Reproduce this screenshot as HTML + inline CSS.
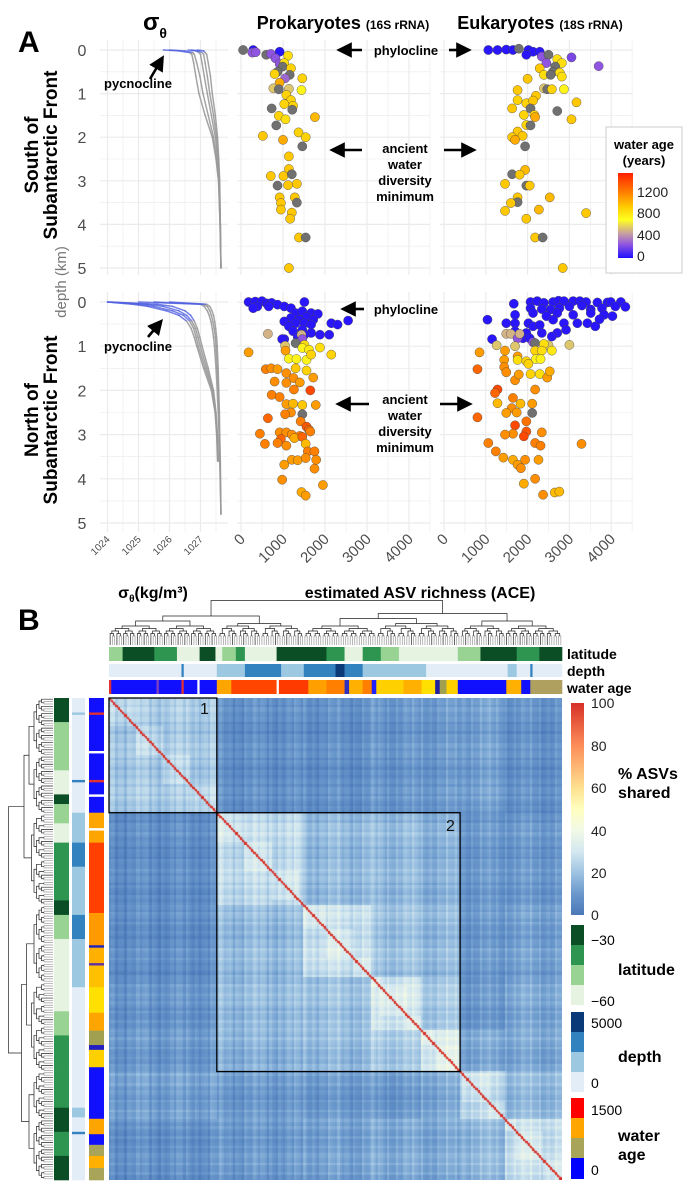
<!DOCTYPE html>
<html><head><meta charset="utf-8">
<style>
html,body{margin:0;padding:0;background:#fff;}
#wrap{position:relative;width:691px;height:1200px;overflow:hidden;font-family:"Liberation Sans",Arial,sans-serif;}
#hm{position:absolute;left:109px;top:698px;}
#svg{position:absolute;left:0;top:0;}
</style></head>
<body>
<div id="wrap">
<canvas id="hm" width="453" height="482"></canvas>
<svg id="svg" width="691" height="1200" xmlns="http://www.w3.org/2000/svg">
<defs>
<linearGradient id="ageGrad" x1="0" y1="1" x2="0" y2="0">
<stop offset="0" stop-color="#2010ff"/><stop offset="0.16" stop-color="#9055e0"/><stop offset="0.29" stop-color="#c8a0a0"/><stop offset="0.45" stop-color="#ffff20"/><stop offset="0.61" stop-color="#ffc800"/><stop offset="0.77" stop-color="#ff8000"/><stop offset="1" stop-color="#ff2000"/>
</linearGradient>
<linearGradient id="pctGrad" x1="0" y1="1" x2="0" y2="0">
<stop offset="0" stop-color="#4b78b8"/><stop offset="0.1" stop-color="#6a98cc"/><stop offset="0.2" stop-color="#9ec3e2"/><stop offset="0.3" stop-color="#d4e8f0"/><stop offset="0.4" stop-color="#f2f9e6"/><stop offset="0.5" stop-color="#ffffbf"/><stop offset="0.6" stop-color="#fee090"/><stop offset="0.8" stop-color="#fc8d59"/><stop offset="1" stop-color="#d73027"/>
</linearGradient>
<marker id="ah" markerWidth="6" markerHeight="6" refX="3" refY="3" orient="auto" markerUnits="strokeWidth"><path d="M0,0 L6,3 L0,6 z" fill="#000"/></marker>
</defs>
<g id="grids"></g>
<g id="curves"></g>
<g id="points"></g>
<g id="heatdeco"></g>

<text x="18" y="52" font-size="30" font-weight="bold">A</text>
<text x="18" y="630" font-size="30" font-weight="bold">B</text>
<text x="143" y="30" font-size="24" font-weight="bold">σ<tspan font-size="14" dy="8">θ</tspan></text>
<text x="343" y="29" text-anchor="middle" font-weight="bold"><tspan font-size="18">Prokaryotes </tspan><tspan font-size="12">(16S rRNA)</tspan></text>
<text x="540" y="29" text-anchor="middle" font-weight="bold"><tspan font-size="18">Eukaryotes </tspan><tspan font-size="12">(18S rRNA)</tspan></text>

<g font-weight="bold" font-size="19" text-anchor="middle">
<text transform="translate(38,155) rotate(-90)">South of</text>
<text transform="translate(57,155) rotate(-90)">Subantarctic Front</text>
</g>
<g font-weight="bold" font-size="19" text-anchor="middle">
<text transform="translate(38,420) rotate(-90)">North of</text>
<text transform="translate(57,420) rotate(-90)">Subantarctic Front</text>
</g>
<text transform="translate(66,282) rotate(-90)" text-anchor="middle" font-size="15" fill="#777">depth (km)</text>

<g font-weight="bold" font-size="13">
<text x="138" y="88" text-anchor="middle">pycnocline</text>
<text x="138" y="351" text-anchor="middle">pycnocline</text>
<text x="406" y="55" text-anchor="middle">phylocline</text>
<text x="406" y="314" text-anchor="middle">phylocline</text>
<text x="405" y="153" text-anchor="middle">ancient</text>
<text x="405" y="169" text-anchor="middle">water</text>
<text x="405" y="185" text-anchor="middle">diversity</text>
<text x="405" y="201" text-anchor="middle">minimum</text>
<text x="405" y="404" text-anchor="middle">ancient</text>
<text x="405" y="420" text-anchor="middle">water</text>
<text x="405" y="436" text-anchor="middle">diversity</text>
<text x="405" y="452" text-anchor="middle">minimum</text>
</g>
<g stroke="#000" stroke-width="2.6" marker-end="url(#ah)">
<line x1="150" y1="79" x2="160" y2="62"/>
<line x1="148" y1="337" x2="158" y2="325"/>
<line x1="362" y1="50" x2="344" y2="50"/>
<line x1="449" y1="50" x2="464" y2="50"/>
<line x1="362" y1="150" x2="337" y2="150"/>
<line x1="444" y1="150" x2="469" y2="150"/>
<line x1="364" y1="309" x2="348" y2="309"/>
<line x1="369" y1="404" x2="343" y2="404"/>
<line x1="440" y1="404" x2="465" y2="404"/>
</g>

<g>
<rect x="606" y="127" width="76" height="146" fill="#fff" stroke="#ccc"/>
<text x="644" y="149" text-anchor="middle" font-size="13" font-weight="bold">water age</text>
<text x="644" y="165" text-anchor="middle" font-size="13" font-weight="bold">(years)</text>
<rect x="618" y="173" width="15" height="85" fill="url(#ageGrad)"/>
<g font-size="14" fill="#222"><text x="637" y="197">1200</text><text x="637" y="218">800</text><text x="637" y="240">400</text><text x="637" y="261">0</text></g>
</g>

<text x="153" y="598" text-anchor="middle" font-size="16" font-weight="bold">σ<tspan font-size="10" dy="4">θ</tspan><tspan dy="-4">(kg/m³)</tspan></text>
<text x="420" y="598" text-anchor="middle" font-size="16" font-weight="bold">estimated ASV richness (ACE)</text>

<g font-size="14" font-weight="bold">
<text x="567" y="659">latitude</text><text x="567" y="676">depth</text><text x="567" y="693">water age</text>
</g>
<g>
<rect x="571" y="703" width="13" height="212" fill="url(#pctGrad)"/>
<g font-size="14" fill="#222"><text x="591" y="708">100</text><text x="591" y="751">80</text><text x="591" y="793">60</text><text x="591" y="836">40</text><text x="591" y="878">20</text><text x="591" y="920">0</text></g>
<text x="618" y="779" font-size="16" font-weight="bold">% ASVs</text>
<text x="618" y="798" font-size="16" font-weight="bold">shared</text>
<rect x="571" y="925" width="13" height="20" fill="#0b4d25"/><rect x="571" y="945" width="13" height="20" fill="#2e9550"/><rect x="571" y="965" width="13" height="20" fill="#98d394"/><rect x="571" y="985" width="13" height="20" fill="#e5f3e0"/>
<text x="591" y="945" font-size="14">−30</text><text x="591" y="1006" font-size="14">−60</text>
<text x="618" y="975" font-size="16" font-weight="bold">latitude</text>
<rect x="571" y="1012" width="13" height="20" fill="#0b3a78"/><rect x="571" y="1032" width="13" height="20" fill="#3282c0"/><rect x="571" y="1052" width="13" height="20" fill="#9cc8e2"/><rect x="571" y="1072" width="13" height="20" fill="#e2edf8"/>
<text x="591" y="1028" font-size="14">5000</text><text x="591" y="1088" font-size="14">0</text>
<text x="618" y="1062" font-size="16" font-weight="bold">depth</text>
<rect x="571" y="1098" width="13" height="20" fill="#ff0000"/><rect x="571" y="1118" width="13" height="20" fill="#ffa500"/><rect x="571" y="1138" width="13" height="20" fill="#a8a45a"/><rect x="571" y="1158" width="13" height="21" fill="#0000ff"/>
<text x="591" y="1115" font-size="14">1500</text><text x="591" y="1175" font-size="14">0</text>
<text x="618" y="1141" font-size="16" font-weight="bold">water</text><text x="618" y="1160" font-size="16" font-weight="bold">age</text>
</g>
</svg>
</div>
<script>
// ---------- Panel A data ----------
const ticksDepth = [0,1,2,3,4,5];
const ticksSigma = [1024,1025,1026,1027];
const ticksRich = [0,1000,2000,3000,4000];
const depthsTop = [0,0.02,0.06,0.1,0.3,0.6,1,1.5,2,2.5,3,4,5];
const sigTop1 = [1025.8,1026.3,1026.65,1026.72,1026.78,1026.85,1026.95,1027.15,1027.38,1027.5,1027.58,1027.63,1027.66];
const sigTop2 = [1026.0,1026.5,1026.75,1026.8,1026.88,1026.98,1027.08,1027.25,1027.42,1027.52,1027.59,1027.63,1027.66];
const sigTop3 = [1026.6,1026.85,1026.95,1027.0,1027.05,1027.12,1027.22,1027.35,1027.48,1027.55,1027.6,1027.64,1027.66];
const sigTop4 = [1026.7,1026.95,1027.05,1027.1,1027.15,1027.22,1027.3,1027.42,1027.52,1027.57,1027.61,1027.64,1027.66];
const sigTop5 = [1026.9,1027.1,1027.15,1027.2,1027.25,1027.32,1027.38,1027.48,1027.55,1027.59,1027.62,1027.64,1027.66];
const depthsBotA = [0,0.05,0.1,0.2,0.3,0.43,0.6,0.8,1,1.5,2,2.5,3,3.6];
const sigBotA1 = [1024.0,1024.8,1025.3,1025.9,1026.3,1026.55,1026.7,1026.8,1026.88,1027.1,1027.35,1027.47,1027.52,1027.55];
const sigBotA2 = [1024.0,1025.0,1025.5,1026.1,1026.45,1026.65,1026.78,1026.86,1026.93,1027.15,1027.38,1027.48,1027.53,1027.56];
const sigBotA3 = [1024.0,1025.3,1025.8,1026.3,1026.55,1026.72,1026.84,1026.92,1026.99,1027.2,1027.4,1027.49,1027.54,1027.57];
const sigBotA4 = [1024.1,1025.6,1026.1,1026.5,1026.68,1026.8,1026.9,1026.98,1027.05,1027.25,1027.42,1027.5,1027.55,1027.58];
const depthsBotB = [0,0.05,0.1,0.2,0.3,0.45,0.6,0.8,1,1.5,2,2.5,3,3.6,4.8];
const sigBotB1 = [1025.0,1027.0,1027.12,1027.22,1027.28,1027.34,1027.38,1027.42,1027.45,1027.5,1027.54,1027.57,1027.6,1027.62,1027.66];
const sigBotB2 = [1025.5,1027.1,1027.22,1027.3,1027.35,1027.4,1027.44,1027.48,1027.5,1027.54,1027.57,1027.59,1027.61,1027.63,1027.66];
const sigBotB3 = [1026.0,1027.2,1027.3,1027.37,1027.42,1027.46,1027.49,1027.52,1027.54,1027.57,1027.59,1027.61,1027.62,1027.64,1027.66];

// richness, depth (km), water age (years; -1 = no data)
const prokTop = [[50,0,-1],[290,0,20],[270,0.06,250],[350,0.05,250],[600,0.11,-1],[710,0.09,250],[920,0.04,20],[820,0.19,250],[920,0.32,250],[1120,0.13,850],[1030,0.3,850],[990,0.38,-1],[1190,0.42,900],[870,0.5,-1],[800,0.55,900],[1160,0.57,-1],[1050,0.65,300],[1460,0.65,900],[920,0.75,1050],[770,0.88,550],[900,0.9,-1],[1140,0.89,550],[1440,0.92,750],[1080,1.03,900],[1190,1.15,900],[1030,1.24,900],[1240,1.28,900],[730,1.34,-1],[1220,1.37,-1],[900,1.51,900],[1060,1.59,850],[1760,1.54,1000],[840,1.73,-1],[1370,1.89,900],[520,1.97,950],[1540,2.0,900],[1000,2.06,1050],[1460,2.21,-1],[1140,2.44,950],[1140,2.73,950],[710,2.89,950],[1010,2.89,950],[1210,2.85,-1],[870,3.11,-1],[1120,3.1,950],[1330,3.07,950],[920,3.38,950],[950,3.51,950],[1280,3.38,950],[1330,3.5,-1],[950,3.66,950],[1210,3.73,950],[1170,3.87,950],[1380,4.3,950],[1540,4.3,-1],[1140,5.0,950]];
const eukTop = [[1060,0,20],[1280,0,20],[1490,-0.01,20],[1650,0,20],[1790,-0.03,-1],[2020,0,20],[2130,0.04,20],[2290,0.04,30],[1970,0.11,20],[2340,0.15,250],[2500,0.11,-1],[3050,0.17,200],[3700,0.37,250],[2450,0.3,250],[2710,0.21,850],[2820,0.3,850],[2660,0.38,-1],[2290,0.42,950],[2610,0.5,-1],[2770,0.52,850],[2390,0.57,850],[2550,0.57,-1],[2820,0.61,850],[2000,0.66,950],[1760,0.92,950],[2390,0.88,550],[2470,0.9,-1],[2580,0.9,900],[2870,0.9,750],[2200,1.05,950],[1760,1.15,900],[1970,1.22,900],[2130,1.16,950],[3170,1.2,950],[1630,1.34,950],[2070,1.34,-1],[2710,1.4,-1],[1910,1.49,900],[2160,1.49,900],[2180,1.54,1050],[3050,1.59,950],[1970,1.72,900],[2070,1.73,-1],[1760,1.87,950],[1630,2.0,950],[1880,1.97,950],[1700,2.06,1050],[1940,2.21,-1],[1940,2.75,1000],[1630,2.85,-1],[1810,2.86,950],[1460,3.07,950],[1970,3.11,-1],[2050,3.11,950],[2530,3.38,1000],[1760,3.38,950],[1760,3.49,-1],[1600,3.51,950],[1460,3.69,950],[2270,3.66,1000],[3400,3.74,950],[1970,3.87,950],[2180,4.3,950],[2360,4.3,-1],[2840,5.0,950]];
const prokBot = [[180,0,20],[340,-0.01,20],[500,-0.02,20],[610,0.03,20],[730,0.02,20],[870,0.06,20],[390,0.1,20],[660,0.1,20],[290,0.14,20],[1030,0.1,20],[1190,0.14,20],[1510,0,20],[1300,0.25,20],[1460,0.21,20],[1670,0.25,20],[1830,0.27,20],[1560,0.34,20],[1720,0.4,20],[1380,0.4,20],[1190,0.36,20],[1030,0.44,20],[1300,0.48,20],[1510,0.48,20],[1670,0.51,20],[2150,0.48,20],[2300,0.51,20],[2550,0.42,20],[1140,0.55,20],[1460,0.63,20],[1240,0.66,20],[1670,0.7,20],[1880,0.74,30],[2100,0.74,30],[1030,0.84,30],[980,0.84,30],[1510,0.74,30],[1350,0.79,40],
[640,0.72,500],[1440,0.74,500],[1460,0.84,250],[1050,0.99,550],[1300,0.93,-1],[1510,0.97,850],
[180,1.14,1100],[1060,1.1,1100],[1460,1.04,750],[1620,1.08,800],[1880,1.03,850],[2150,1.19,900],[1140,1.28,750],[1320,1.29,750],[1560,1.31,750],[1670,1.19,900],[590,1.52,1200],[720,1.5,1150],[870,1.52,1100],[1080,1.61,1150],[1300,1.5,950],[1560,1.55,900],[1720,1.71,1100],[1250,1.72,1150],[800,1.8,1150],[1080,1.83,1150],[1400,1.82,1100],[1260,1.98,1200],[1650,2.0,1400],[730,2.1,1200],[920,2.15,1200],[1080,2.31,1100],[1240,2.3,1000],[1460,2.33,950],[1780,2.33,1100],[1190,2.5,1150],[1050,2.54,1200],[1460,2.54,-1],[640,2.63,1300],[1420,2.7,1200],[1560,2.82,1350],[1620,2.89,1300],[450,2.98,1200],[920,2.95,1150],[1080,2.95,1150],[1210,3.0,1150],[1400,3.03,1200],[1650,2.93,1200],[950,3.1,1300],[1270,3.08,1050],[1460,3.05,1300],[570,3.21,1200],[870,3.19,1200],[1540,3.21,1000],[1080,3.25,1150],[1590,3.38,1200],[1750,3.38,1200],[1210,3.57,1100],[1350,3.58,1100],[1540,3.53,1150],[1790,3.57,1150],[1030,3.68,1100],[1750,3.77,1150],[980,4.02,1150],[1950,4.14,1100],[1440,4.3,1050],[1540,4.38,1100]];
const eukBot = [[2070,0,20],[2230,-0.02,20],[2390,0.02,20],[2610,0,20],[2740,-0.03,20],[2870,-0.02,20],[3090,-0.02,20],[3250,-0.02,20],[3400,0,20],[3670,0.01,20],[3910,0.01,20],[3990,0,20],[4230,0,20],[4340,0.11,20],[4100,0.1,20],[3780,0.14,20],[3510,0.17,20],[3300,0.08,20],[3000,0.1,20],[2760,0.14,20],[2550,0.17,20],[2340,0.16,20],[2070,0.14,20],[1670,0.04,20],[1700,0.29,20],[2130,0.25,20],[2450,0.32,20],[2710,0.25,20],[3090,0.29,20],[3510,0.25,20],[3830,0.29,20],[4030,0.32,20],[1040,0.4,20],[1490,0.48,20],[1700,0.48,20],[2020,0.48,20],[2130,0.55,20],[2290,0.52,20],[2610,0.4,20],[2870,0.48,20],[3190,0.48,20],[3430,0.48,20],[3620,0.55,20],[3720,0.39,20],[1700,0.66,20],[1970,0.7,20],[2340,0.7,30],[2710,0.7,30],[2920,0.63,20],[1150,0.84,20],[1890,0.82,30],[2050,0.82,30],[2580,0.78,30],
[1490,0.72,500],[1600,0.72,500],[1760,0.82,250],[1810,0.72,500],[1260,0.98,550],[1700,1.0,550],[2130,0.91,250],[2180,0.93,-1],[2500,0.98,550],[3000,0.97,550],[2390,0.95,850],
[850,1.14,1100],[1460,1.1,1100],[1760,1.23,1100],[2180,1.1,900],[2340,1.1,850],[2580,1.1,800],[1440,1.31,1100],[1760,1.31,850],[1970,1.34,900],[2200,1.29,750],[2310,1.29,750],[800,1.52,1300],[1440,1.47,1150],[1490,1.59,1150],[2020,1.4,900],[1700,1.77,1150],[1790,1.64,1100],[2070,1.63,900],[2290,1.63,850],[2470,1.71,1100],[2530,1.57,1050],[2180,1.98,1150],[1280,1.98,1400],[1220,2.06,1300],[1280,2.29,1000],[1650,2.17,1200],[1830,2.3,1000],[2110,2.3,1100],[1620,2.4,1150],[1740,2.5,1100],[1490,2.51,1100],[2110,2.51,-1],[1970,2.7,1250],[800,2.61,1300],[1700,2.79,1400],[1970,2.93,1350],[1650,2.98,1150],[1910,3.04,1400],[2340,2.95,1150],[1460,3.0,1150],[1060,3.19,1200],[2180,3.19,1200],[2310,3.25,1200],[3290,3.21,1150],[1240,3.38,1200],[1420,3.52,1100],[1650,3.57,1050],[1940,3.57,1150],[2260,3.57,1100],[1760,3.68,1100],[1840,3.76,1150],[2180,4.0,1150],[1910,4.11,1050],[2370,4.36,1150],[2650,4.31,1000],[2760,4.29,1000]];

// ---------- scales ----------
const yTop = d => 50 + d*43.6;
const yBot = d => 302 + d*44.2;
const xSig = s => 107.5 + (s-1024)*31;
const xProk = r => 241 + r*0.042;
const xEuk = r => 444 + r*0.0418;

const NS='http://www.w3.org/2000/svg';
function mk(tag, parent, attrs){
  const el=document.createElementNS(NS,tag);
  for(const k in attrs) el.setAttribute(k,attrs[k]);
  parent.appendChild(el); return el;
}
function hex(c){return [parseInt(c.slice(1,3),16),parseInt(c.slice(3,5),16),parseInt(c.slice(5,7),16)];}
function interp(stops,v){
  if(v<=stops[0][0]) return stops[0][1];
  for(let i=1;i<stops.length;i++){
    if(v<=stops[i][0]){
      const t=(v-stops[i-1][0])/(stops[i][0]-stops[i-1][0]);
      const a=hex(stops[i-1][1]),b=hex(stops[i][1]);
      return 'rgb('+a.map((x,j)=>Math.round(x+(b[j]-x)*t)).join(',')+')';
    }
  }
  return stops[stops.length-1][1];
}
const ageStops=[[0,'#2010ff'],[250,'#9055e0'],[450,'#c8a0a0'],[700,'#ffff20'],[950,'#ffc800'],[1200,'#ff8000'],[1550,'#ff2000']];
const pctStops=[[0,'#4b78b8'],[10,'#6a98cc'],[20,'#9ec3e2'],[30,'#d4e8f0'],[40,'#f2f9e6'],[50,'#ffffbf'],[60,'#fee090'],[80,'#fc8d59'],[100,'#d73027']];

// ---------- grids ----------
const grids=document.getElementById('grids');
const panelsX=[[100,228,'sigma'],[237,430,'prok'],[440,633,'euk']];
const rowsY=[[40,275,yTop],[292,532,yBot]];
rowsY.forEach(([y0,y1,ys],ri)=>{
  panelsX.forEach(([x0,x1,kind])=>{
    for(let d=0;d<=5.01;d+=0.5){
      const l=mk('line',grids,{x1:x0,x2:x1,y1:ys(d),y2:ys(d),stroke:'#ebebeb','stroke-width':(d%1===0)?1.2:0.6});
      
      
    }
    let xs=[];
    if(kind==='sigma'){for(let s=1024;s<=1027.5;s+=0.5) xs.push([xSig(s),s%1===0]);}
    else {const f=kind==='prok'?xProk:xEuk; for(let r=0;r<=4500;r+=500) xs.push([f(r),r%1000===0]);}
    xs.forEach(([x,maj])=>{
      const l=mk('line',grids,{x1:x,x2:x,y1:y0,y2:y1,stroke:'#ebebeb','stroke-width':maj?1.2:0.6});
      
      
    });
  });
  ticksDepth.forEach(d=>{
    const t=mk('text',grids,{x:82,y:ys(d)+6,'text-anchor':'middle','font-size':16,fill:'#4d4d4d'});
    t.textContent=d;
    
    
  });
});
ticksSigma.forEach(s=>{
  const x=xSig(s)+3,y=540;
  const t=mk('text',grids,{x:x,y:y,'text-anchor':'end','font-size':10,fill:'#4d4d4d',transform:`rotate(-45 ${x} ${y})`});
  t.textContent=s;
  
  
});
[xProk,xEuk].forEach(f=>ticksRich.forEach(r=>{
  const x=f(r)+5,y=540;
  const t=mk('text',grids,{x:x,y:y,'text-anchor':'end','font-size':15,fill:'#4d4d4d',transform:`rotate(-45 ${x} ${y})`});
  t.textContent=r;
  
  
}));

// ---------- density curves ----------
const cg=document.getElementById('curves');
function drawCurve(depths,sig,ys,blueMax){
  for(let i=0;i<depths.length-1;i++){
    const blue=depths[i]<blueMax;
    const l=mk('line',cg,{x1:xSig(sig[i]),y1:ys(depths[i]),x2:xSig(sig[i+1]),y2:ys(depths[i+1]),stroke:blue?'#5060e0':'#9a9a9a','stroke-width':1.5,'stroke-opacity':blue?0.8:0.9,'stroke-linecap':'round'});
    
    
  }
}
[sigTop1,sigTop2,sigTop3,sigTop4,sigTop5].forEach(s=>drawCurve(depthsTop,s,yTop,0.06));
[sigBotA1,sigBotA2,sigBotA3,sigBotA4].forEach(s=>drawCurve(depthsBotA,s,yBot,0.43));
[sigBotB1,sigBotB2,sigBotB3].forEach(s=>drawCurve(depthsBotB,s,yBot,0.05));

// ---------- points ----------
const pg=document.getElementById('points');
function drawPts(arr,xf,yf){
  arr.forEach(([r,d,a])=>{
    const c=mk('circle',pg,{cx:xf(r),cy:yf(d),r:4.6,fill:a<0?'#707070':interp(ageStops,a),stroke:'#444','stroke-width':0.4});
    
    
  });
}
drawPts(prokTop,xProk,yTop);
drawPts(eukTop,xEuk,yTop);
drawPts(prokBot,xProk,yBot);
drawPts(eukBot,xEuk,yBot);

// ---------- Panel B data ----------
const groupBounds=[0,0.238,0.431,0.578,0.691,0.775,0.877,1];
const blockMeans=[
 [22,7,7,9,10,12,8],
 [7,26,18,18,16,10,10],
 [7,18,28,20,18,10,12],
 [9,18,20,30,22,10,14],
 [10,16,18,22,32,14,14],
 [12,10,10,10,14,26,18],
 [8,10,12,14,14,18,28]];
const latColors=['#0b4d25','#2e9550','#98d394','#e5f3e0'];
const depColors=['#e2edf8','#9cc8e2','#3282c0','#0b3a78'];
const topLat=[[0,.03,2],[.03,.1,0],[.1,.15,1],[.15,.2,3],[.2,.235,0],[.235,.25,3],[.25,.28,2],[.28,.3,1],[.3,.37,3],[.37,.48,0],[.48,.52,1],[.52,.56,3],[.56,.6,1],[.6,.64,2],[.64,.77,3],[.77,.82,2],[.82,.9,0],[.9,.95,1],[.95,1,0]];
const topDep=[[0,.16,0],[.16,.165,2],[.165,.238,0],[.238,.3,1],[.3,.38,2],[.38,.43,1],[.43,.5,2],[.5,.52,3],[.52,.56,2],[.56,.578,1],[.578,.7,1],[.7,.88,0],[.88,.9,1],[.9,.93,0],[.93,.935,2],[.935,1,0]];
const topAge=[[0,.005,'#e03030'],[.005,.105,'#1010ff'],[.105,.11,'#8040c0'],[.11,.16,'#1010ff'],[.16,.165,'#e03030'],[.165,.195,'#1010ff'],[.195,.2,'#ffffff'],[.2,.238,'#1010ff'],[.238,.27,'#ffa500'],[.27,.37,'#ff4500'],[.37,.375,'#ffffff'],[.375,.44,'#ff3a00'],[.44,.48,'#ffa000'],[.48,.52,'#ff8000'],[.52,.53,'#3030c0'],[.53,.56,'#ffb000'],[.56,.58,'#ff8000'],[.58,.59,'#2020ff'],[.59,.65,'#ffd000'],[.65,.69,'#ffb000'],[.69,.72,'#ffe000'],[.72,.73,'#2020a0'],[.73,.745,'#a0a050'],[.745,.77,'#ffd000'],[.77,.877,'#1010ff'],[.877,.91,'#ffb000'],[.91,.93,'#1010ff'],[.93,1,'#b0a060']];
const leftLat=[[0,.05,0],[.05,.15,2],[.15,.2,3],[.2,.22,0],[.22,.26,2],[.26,.3,3],[.3,.42,1],[.42,.45,0],[.45,.5,2],[.5,.65,3],[.65,.7,2],[.7,.77,1],[.77,.85,1],[.85,.9,0],[.9,.95,1],[.95,1,0]];
const leftDep=[[0,.03,0],[.03,.035,1],[.035,.17,0],[.17,.175,2],[.175,.238,0],[.238,.3,1],[.3,.35,2],[.35,.45,1],[.45,.5,2],[.5,.6,1],[.6,.77,0],[.77,.85,0],[.85,.87,1],[.87,.9,0],[.9,.905,2],[.905,1,0]];
const leftAge=[[0,.03,'#1010ff'],[.03,.035,'#e03030'],[.035,.11,'#1010ff'],[.11,.115,'#ffffff'],[.115,.17,'#1010ff'],[.17,.175,'#e03030'],[.175,.2,'#1010ff'],[.2,.205,'#ffffff'],[.205,.238,'#1010ff'],[.238,.27,'#ffa500'],[.27,.275,'#ffffff'],[.275,.3,'#ffa500'],[.3,.446,'#ff4000'],[.446,.513,'#ff9a00'],[.513,.518,'#2020c0'],[.518,.55,'#ffb000'],[.55,.555,'#6030a0'],[.555,.6,'#ffc000'],[.6,.653,'#ffe000'],[.653,.69,'#ffa500'],[.69,.72,'#a0a050'],[.72,.73,'#2020c0'],[.73,.766,'#ffd000'],[.766,.873,'#1010ff'],[.873,.905,'#ffa500'],[.905,.927,'#1010ff'],[.927,.95,'#a8a45a'],[.95,.975,'#ffb000'],[.975,1,'#a8a45a']];

// ---------- heatmap canvas ----------
const N=200, HX=109, HY=698, HW=453, HH=482;
const ctx=document.getElementById('hm').getContext('2d');
const grp=i=>{const f=(i+0.5)/N;for(let g=0;g<7;g++) if(f<groupBounds[g+1]) return g;return 6;};
const tex=i=>2.5*Math.sin(i*1.7)+2*Math.sin(i*0.37)+1.5*Math.cos(i*2.9);
const cw=HW/N, ch=HH/N;
for(let i=0;i<N;i++){
  for(let j=0;j<N;j++){
    const gi=grp(i),gj=grp(j);
    let v=blockMeans[gi][gj]+tex(i)*0.7+tex(j+7);
    if(gi===gj && Math.floor(i/12)===Math.floor(j/12)) v+=4;
    if(i===j) v=100;
    ctx.fillStyle=interp(pctStops,Math.max(0,v));
    ctx.fillRect(Math.floor(j*cw),Math.floor(i*ch),Math.ceil(cw)+1,Math.ceil(ch)+1);
  }
}
ctx.strokeStyle='#d73027';ctx.lineWidth=1.3;ctx.beginPath();ctx.moveTo(0,0);ctx.lineTo(HW,HH);ctx.stroke();

// ---------- heatmap decorations ----------
const hd=document.getElementById('heatdeco');
function hBar(segs,y,h,colorOf,name){
  segs.forEach(s=>{
    const r=mk('rect',hd,{x:HX+s[0]*HW,y:y,width:(s[1]-s[0])*HW+0.3,height:h,fill:colorOf(s[2])});
    
    
  });
}
function vBar(segs,x,w,colorOf,name){
  segs.forEach(s=>{
    const r=mk('rect',hd,{x:x,y:HY+s[0]*HH,width:w,height:(s[1]-s[0])*HH+0.3,fill:colorOf(s[2])});
    
    
  });
}
hBar(topLat,647,14,k=>latColors[k],'latitude-track-top');
hBar(topDep,664,13,k=>depColors[k],'depth-track-top');
hBar(topAge,680,14,c=>c,'water-age-track-top');
vBar(leftLat,54,15,k=>latColors[k],'latitude-track-left');
vBar(leftDep,72,13,k=>depColors[k],'depth-track-left');
vBar(leftAge,89,15,c=>c,'water-age-track-left');

// boxes
function box(f0,f1,label,lx,ly){
  const r=mk('rect',hd,{x:HX+f0*HW,y:HY+f0*HH,width:(f1-f0)*HW,height:(f1-f0)*HH,fill:'none',stroke:'#000','stroke-width':1.3});
  
  
  const t=mk('text',hd,{x:lx,y:ly,'font-size':16,fill:'#111'});
  t.textContent=label;
  
  
}
box(0,0.238,'1',200,714);
box(0.238,0.775,'2',446,831);

// dendrograms
const splits=[0.12,0.238,0.59,0.431,0.775,0.877];
function build(lo,hi,depth,orient){
  const n=hi-lo;
  if(n<=1) return {pos:lo+0.5,h:0};
  let m=Math.floor((lo+hi)/2);
  const cand=splits.map(f=>Math.round(f*N)).filter(s=>s>lo+1&&s<hi-1);
  if(depth<4 && cand.length) m=cand.reduce((a,b)=>Math.abs(a-(lo+hi)/2)<Math.abs(b-(lo+hi)/2)?a:b);
  const a=build(lo,m,depth+1,orient), b=build(m,hi,depth+1,orient);
  const h=Math.max(a.h,b.h)+ (n>40?5:(n>8?2.5:(n>2?2.5:9))) + (depth===0?8:0);
  const col=n<3?'#9a9a9a':'#222';
  let d;
  if(orient==='top'){
    const X=p=>HX+p*HW/N, Y=hh=>645-hh;
    d=`M${X(a.pos)},${Y(a.h)}V${Y(h)}H${X(b.pos)}V${Y(b.h)}`;
  } else {
    const Y=p=>HY+p*HH/N, X=hh=>53-hh;
    d=`M${X(a.h)},${Y(a.pos)}H${X(h)}V${Y(b.pos)}H${X(b.h)}`;
  }
  const p=mk('path',hd,{d:d,fill:'none',stroke:col,'stroke-width':0.7});
  
  
  return {pos:(a.pos+b.pos)/2,h:h};
}
build(0,N,0,'top');
build(0,N,0,'left');
</script>
</body></html>
